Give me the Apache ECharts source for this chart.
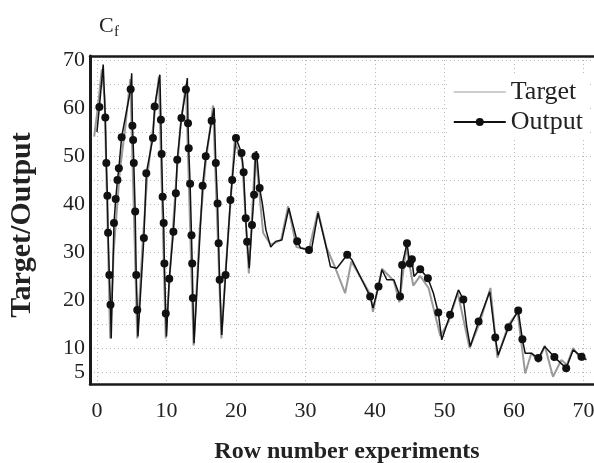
<!DOCTYPE html>
<html><head><meta charset="utf-8">
<script src="https://cdn.jsdelivr.net/npm/echarts@6/dist/echarts.min.js"></script>
<style>html,body{margin:0;padding:0;background:#fff}#c{width:594px;height:463px}</style>
</head><body><div id="c"></div>
<script>
// Target series (grey line)
const targetX = [-0.4,0.2,0.7,1.1,1.9,2.4,3.3,4.0,4.8,5.8,6.5,7.2,8.0,8.9,9.9,10.6,11.4,12.0,12.8,13.9,14.8,15.6,16.7,17.9,18.6,19.3,19.8,20.9,21.85,22.8,23.9,25,26.5,27.5,28.7,30.5,31.8,33,34.2,35.7,36.6,38,39.4,39.7,40.5,41.0,42.7,43.5,44.5,45.5,46.5,47.7,49.4,50.6,51.9,53.6,55.0,56.6,57.6,59.2,60.5,61.6,62.5,63.5,64.4,65.6,66.8,67.6,68.5,69.7,70.4];
const targetY = [54,61,68,62,12,30,47,55,66,12,30,45,55,66.5,12,28,45,56,65,10.5,35,48,60.5,12,28,42,53,49,25.5,51,34,31.5,32.5,39.5,31,30.5,38.5,31,27,21.4,28,24.5,21,17.5,23,26.5,24,19.5,31,23,25,22.5,12.5,15.5,21.5,10,15,22.5,8,14.8,17.5,4.7,9,7,10.5,4.0,7.5,6.5,10,7.5,8];

// Output series (black line); outputDot = 1 where a marker is drawn
const outputX = [0.0,0.35,0.9,1.2,1.35,1.5,1.6,1.78,1.95,2.05,2.45,2.7,2.95,3.15,3.55,4.85,5.0,5.1,5.2,5.3,5.5,5.65,5.8,5.9,6.75,7.1,8.05,8.3,9.05,9.2,9.3,9.45,9.6,9.7,9.9,10.0,10.4,11.0,11.35,11.55,12.15,12.8,13.0,13.1,13.2,13.4,13.6,13.7,13.8,13.97,15.2,15.65,16.5,16.85,17.1,17.35,17.5,17.65,17.95,18.5,19.2,19.45,20.0,20.8,21.1,21.4,21.6,21.9,22.3,22.6,22.8,22.95,23.4,23.8,24.3,25.0,25.7,26.6,27.6,28.8,29.3,30.5,30.9,31.8,32.9,33.6,34.5,36.0,36.7,38.1,39.3,39.7,40.5,41.0,41.7,42.7,43.6,43.9,44.6,45.0,45.3,45.6,46.5,47.6,48.4,49.1,49.6,50.8,52.0,52.7,53.2,53.7,54.9,56.5,57.3,57.7,59.2,60.6,61.2,61.6,62.5,63.5,64.4,65.8,67.5,68.5,69.7,70.4];
const outputY = [55,60.2,69,58,48.5,41.7,34,25.2,19,12,36,41,45,47.4,53.9,63.9,67.2,56.3,53.3,48.5,38.4,25.2,17.9,12.4,32.9,46.4,53.7,60.3,66.9,57.5,50.4,41.5,36,27.6,17.2,12.4,24.4,34.2,42.2,49.2,57.9,63.8,66.2,56.8,51.6,44.2,33.5,27.6,20.4,11,43.8,49.9,57.3,60,48.5,40.1,31.8,24.2,12.7,25.2,40.8,45,53.7,50.6,46.6,37,32.1,26.6,35.6,41.9,49.9,51,43.3,40,34.6,31,32.2,32.5,39.1,32.2,30.8,30.4,30.8,38.1,31.5,26.9,26.6,29.4,28.3,24.2,20.7,18.3,22.8,26.3,24.2,24.2,20.7,27.3,31.8,27.6,28.5,24.9,26.4,24.5,21.4,17.4,11.7,16.9,22.1,20.1,14.4,10.3,15.5,21.7,12.2,8.5,14.3,17.8,11.8,8.9,8.9,7.9,10.3,8.1,5.8,9.6,8.2,7.5];
const outputDot = [0,1,0,1,1,1,1,1,1,0,1,1,1,1,1,1,0,1,1,1,1,1,1,0,1,1,1,1,0,1,1,1,1,1,1,0,1,1,1,1,1,1,0,1,1,1,1,1,1,0,1,1,1,0,1,1,1,1,0,1,1,1,1,1,1,1,1,0,1,1,1,0,1,0,0,0,0,0,0,1,0,1,0,0,0,0,0,1,0,0,1,0,1,0,0,0,1,1,1,1,1,0,1,1,0,1,0,1,0,1,0,0,1,0,1,0,1,1,1,0,0,1,0,1,1,0,1,0];

const xTickLabels = [0,10,20,30,40,50,60,70];
const yTickLabels = [5,10,20,30,40,50,60,70];

const serif = 'Liberation Serif';
const chart = echarts.init(document.getElementById('c'), null, {renderer:'canvas'});
const targetData = targetX.map((x,i)=>[x,targetY[i]]);
const outputData = outputX.map((x,i)=>({value:[x,outputY[i]], symbol: outputDot[i] ? 'circle' : 'none'}));

const T = 'rgba(0,0,0,0)';
const xSplitColors = [T,'#b8b8b8',T,T,T,T,T,T,T,T];
const X_MIN = -1, X_MAX = 71.5;

chart.setOption({
  animation:false,
  backgroundColor:'#fff',
  grid:{left:90, right:0, top:56, bottom:79, show:false, containLabel:false, outerBoundsMode:'none'},
  graphic:[
    {type:'text', left:99, top:15, style:{text:'C', font:'22px "Liberation Serif"', fill:'#222'}},
    {type:'text', left:114, top:25, style:{text:'f', font:'15px "Liberation Serif"', fill:'#222'}}
  ],
  legend:{
    orient:'vertical', right:7, top:75, itemWidth:52, itemHeight:10, itemGap:4,
    backgroundColor:'#fff', padding:[4,4,4,6],
    textStyle:{fontFamily:serif, fontSize:26, color:'#222', lineHeight:23},
    data:[{name:'Target', icon:'path://M0,0H50V1H0Z'}, {name:'Output'}]
  },
  xAxis:[{
    type:'value', min:X_MIN, max:X_MAX, interval:1,
    name:'Row number experiments', nameLocation:'middle', nameGap:56,
    nameTextStyle:{fontFamily:serif, fontWeight:'bold', fontSize:24, color:'#222', padding:[0,0,0,10]},
    axisLine:{show:true, onZero:false, lineStyle:{color:'#1a1a1a', width:2.5}},
    axisTick:{show:false},
    axisLabel:{margin:16, fontFamily:serif, fontSize:22, color:'#222',
      formatter:v=> xTickLabels.indexOf(Math.round(v*1000)/1000) >= 0 ? String(Math.round(v)) : ''},
    splitLine:{show:true, lineStyle:{color:xSplitColors, type:[1,3], width:1}}
  },{
    type:'value', position:'top', min:X_MIN, max:X_MAX, interval:10,
    axisLine:{show:true, onZero:false, lineStyle:{color:'#1a1a1a', width:2.5}},
    axisTick:{show:false}, axisLabel:{show:false}, splitLine:{show:false}
  }],
  yAxis:{
    type:'value', min:2.5, max:70.8, interval:2.5,
    name:'Target/Output', nameLocation:'middle', nameGap:53,
    nameTextStyle:{fontFamily:serif, fontWeight:'bold', fontSize:30, color:'#222', padding:[0,10,0,0]},
    axisLine:{show:true, onZero:false, lineStyle:{color:'#1a1a1a', width:3}},
    axisTick:{show:false},
    axisLabel:{margin:5, fontFamily:serif, fontSize:22, color:'#222',
      formatter:v=> yTickLabels.indexOf(Math.round(v*1000)/1000) >= 0 ? String(Math.round(v)) : ''},
    splitLine:{show:true, lineStyle:{color:[T,'#b8b8b8'], type:[1,3], width:1}}
  },
  series:[
    {name:'Target', type:'line', data:targetData, symbol:'none', showSymbol:false,
     lineStyle:{color:'#9a9a9a', width:2}, itemStyle:{color:'#9a9a9a'}, z:2},
    {name:'Output', type:'line', data:outputData, symbol:'circle', symbolSize:8, showSymbol:true, showAllSymbol:true,
     lineStyle:{color:'#111', width:1.5}, itemStyle:{color:'#111'}, z:3}
  ]
});
</script></body></html>
